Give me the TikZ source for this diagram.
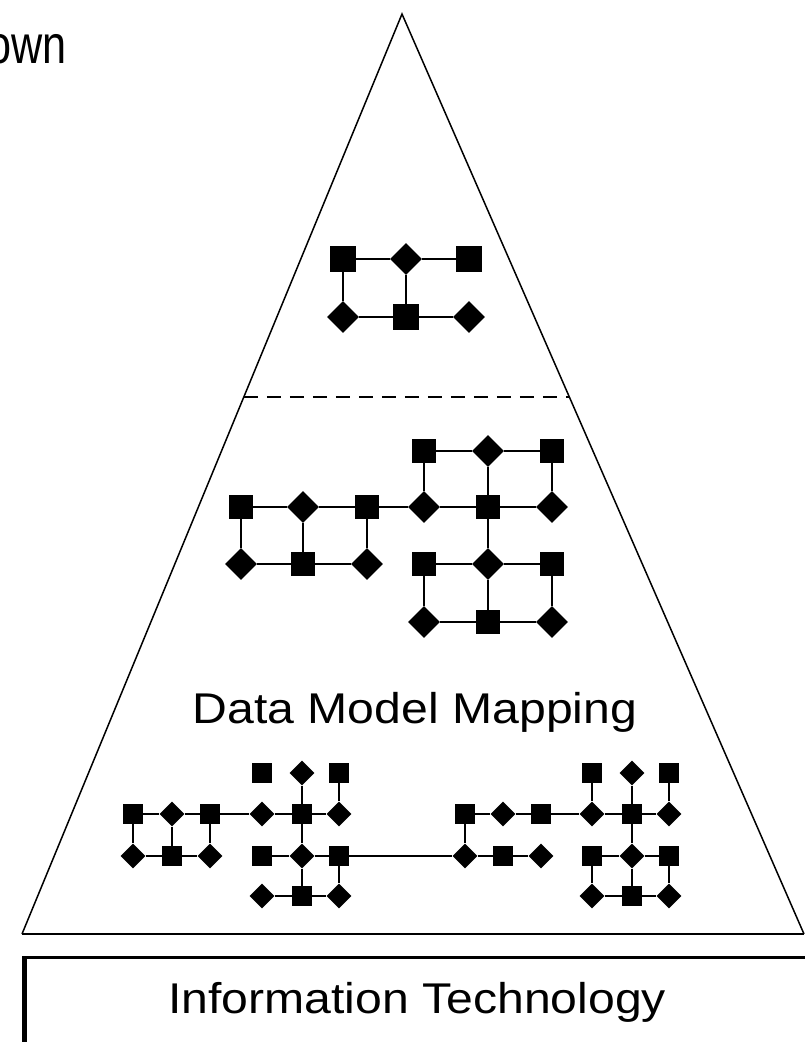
\documentclass[tikz,border=0pt]{standalone}
\usepackage{fontspec}
\setmainfont{Liberation Sans}
\newfontfamily\labelfont[FakeStretch=1.12]{Liberation Sans}
\newfontfamily\headfont[FakeStretch=0.8]{Liberation Sans}
\usetikzlibrary{shapes.geometric,calc}
\begin{document}
\begin{tikzpicture}[x=1pt,y=-1pt,
  sqT/.style={rectangle,fill=black,inner sep=0pt,minimum size=26pt},
  dmT/.style={diamond,fill=black,inner sep=0pt,minimum width=32pt,minimum height=32pt},
  sqM/.style={rectangle,fill=black,inner sep=0pt,minimum size=24pt},
  dmM/.style={diamond,fill=black,inner sep=0pt,minimum width=32pt,minimum height=32pt},
  sqS/.style={rectangle,fill=black,inner sep=0pt,minimum size=20pt},
  dmS/.style={diamond,fill=black,inner sep=0pt,minimum width=25pt,minimum height=25pt},
  link/.style={line width=2.2pt},
  side/.style={line width=1.5pt},
  lbl/.style={inner sep=0pt,font=\labelfont\fontsize{43}{50}\selectfont},
  itbox/.style={draw,line width=2.5pt,rectangle,inner sep=0pt,anchor=north west}
]
\useasboundingbox (0,0) rectangle (805,1042);

% pyramid outline
\coordinate (apex) at (402,14);
\coordinate (bl) at (22,934);
\coordinate (br) at (804,934);
\draw[side,line join=miter] (bl) -- (apex) -- (br);
\draw[line width=2.5pt] (bl) -- (br);
\coordinate (dl) at ($(bl)!0.5837!(apex)$);
\coordinate (dr) at ($(br)!0.5837!(apex)$);
\draw[side,dash pattern=on 14pt off 9pt] (dl) -- (dr);

% heading fragment
\node[inner sep=0pt,anchor=base east,font=\headfont\fontsize{54}{60}\selectfont] (head) at (67,63) {own};

% upper network
\node[sqT] (t11) at (343,259) {};
\node[dmT] (t12) at (406,259) {};
\node[sqT] (t13) at (469,259) {};
\node[dmT] (t21) at (343,317) {};
\node[sqT] (t22) at (406,317) {};
\node[dmT] (t23) at (469,317) {};
\foreach \a/\b in {t11/t12,t12/t13,t21/t22,t22/t23,t11/t21,t12/t22}
  \draw[link] (\a) -- (\b);

% middle network
\node[sqM] (m04) at (424,451) {};
\node[dmM] (m05) at (488,451) {};
\node[sqM] (m06) at (552,451) {};
\node[sqM] (m11) at (241,507) {};
\node[dmM] (m12) at (303,507) {};
\node[sqM] (m13) at (367,507) {};
\node[dmM] (m14) at (424,507) {};
\node[sqM] (m15) at (488,507) {};
\node[dmM] (m16) at (552,507) {};
\node[dmM] (m21) at (241,564) {};
\node[sqM] (m22) at (303,564) {};
\node[dmM] (m23) at (367,564) {};
\node[sqM] (m24) at (424,564) {};
\node[dmM] (m25) at (488,564) {};
\node[sqM] (m26) at (552,564) {};
\node[dmM] (m34) at (424,622) {};
\node[sqM] (m35) at (488,622) {};
\node[dmM] (m36) at (552,622) {};
\foreach \a/\b in {m04/m05,m05/m06,
    m11/m12,m12/m13,m13/m14,m14/m15,m15/m16,
    m21/m22,m22/m23,m24/m25,m25/m26,m34/m35,m35/m36,
    m11/m21,m12/m22,m13/m23,m04/m14,m05/m15,m06/m16,
    m15/m25,m24/m34,m25/m35,m26/m36}
  \draw[link] (\a) -- (\b);

\node[lbl,anchor=base] (dmm) at (415,723) {Data Model Mapping};

% lower networks, left group
\node[sqS] (b04) at (262,773) {};
\node[dmS] (b05) at (302,773) {};
\node[sqS] (b06) at (339,773) {};
\node[sqS] (b11) at (133,814) {};
\node[dmS] (b12) at (172,814) {};
\node[sqS] (b13) at (210,814) {};
\node[dmS] (b14) at (262,814) {};
\node[sqS] (b15) at (302,814) {};
\node[dmS] (b16) at (339,814) {};
\node[dmS] (b21) at (133,856) {};
\node[sqS] (b22) at (172,856) {};
\node[dmS] (b23) at (210,856) {};
\node[sqS] (b24) at (262,856) {};
\node[dmS] (b25) at (302,856) {};
\node[sqS] (b26) at (339,856) {};
\node[dmS] (b34) at (262,896) {};
\node[sqS] (b35) at (302,896) {};
\node[dmS] (b36) at (339,896) {};
% lower networks, right group
\node[sqS] (c04) at (592,773) {};
\node[dmS] (c05) at (632,773) {};
\node[sqS] (c06) at (669,773) {};
\node[sqS] (c11) at (465,814) {};
\node[dmS] (c12) at (503,814) {};
\node[sqS] (c13) at (541,814) {};
\node[dmS] (c14) at (592,814) {};
\node[sqS] (c15) at (632,814) {};
\node[dmS] (c16) at (669,814) {};
\node[dmS] (c21) at (465,856) {};
\node[sqS] (c22) at (503,856) {};
\node[dmS] (c23) at (541,856) {};
\node[sqS] (c24) at (592,856) {};
\node[dmS] (c25) at (632,856) {};
\node[sqS] (c26) at (669,856) {};
\node[dmS] (c34) at (592,896) {};
\node[sqS] (c35) at (632,896) {};
\node[dmS] (c36) at (669,896) {};
\foreach \a/\b in {b11/b12,b12/b13,b13/b14,b14/b15,b15/b16,
    b21/b22,b22/b23,b24/b25,b25/b26,b34/b35,b35/b36,
    b11/b21,b12/b22,b13/b23,b05/b15,b06/b16,b15/b25,b25/b35,b26/b36,
    c11/c12,c12/c13,c13/c14,c14/c15,c15/c16,
    c21/c22,c22/c23,c24/c25,c25/c26,c34/c35,c35/c36,
    c11/c21,c04/c14,c05/c15,c06/c16,c15/c25,c25/c35,c24/c34,c26/c36,
    b26/c21}
  \draw[link] (\a) -- (\b);

% base layer box
\node[itbox,minimum width=781pt,minimum height=130pt] (it) at (24,956) {};
\draw[line width=4pt] (it.north west) -- (it.south west);
\node[lbl,anchor=base] (itlabel) at (417,1013) {Information Technology};
\end{tikzpicture}
\end{document}
